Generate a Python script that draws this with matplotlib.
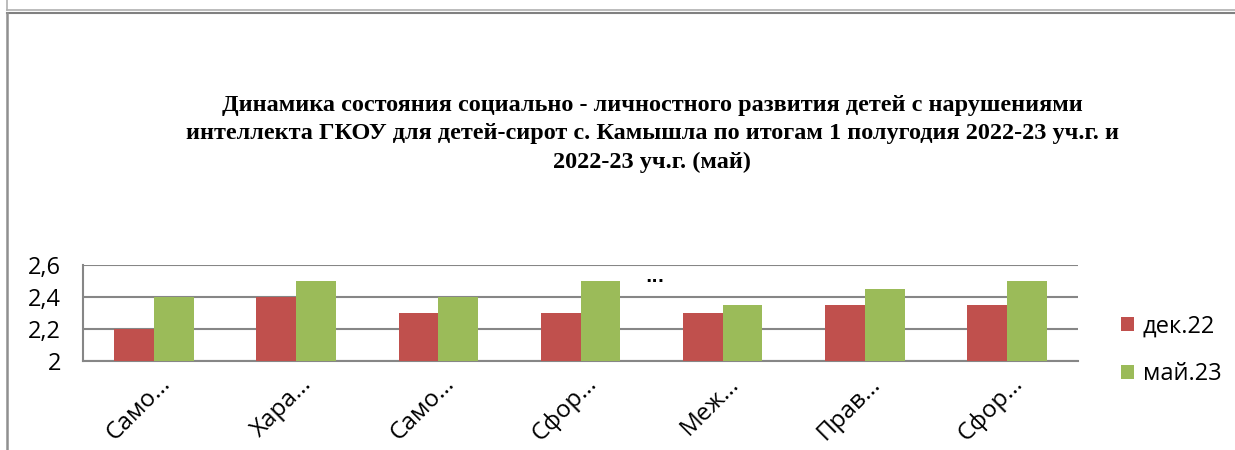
import matplotlib
matplotlib.use("Agg")
import matplotlib.pyplot as plt
import matplotlib.transforms as mtransforms
import numpy as np
from matplotlib.lines import Line2D

categories = ["Само…", "Хара…", "Само…", "Сфор…", "Меж…", "Прав…", "Сфор…"]
series_names = ["дек.22", "май.23"]
dec22 = [2.2, 2.4, 2.3, 2.3, 2.3, 2.35, 2.35]
may23 = [2.4, 2.5, 2.4, 2.5, 2.35, 2.45, 2.5]
yticks = [2.0, 2.2, 2.4, 2.6]
ytick_labels = ["2", "2,2", "2,4", "2,6"]
title = ("Динамика состояния социально - личностного развития детей с нарушениями\n"
         "интеллекта ГКОУ для детей-сирот с. Камышла по итогам 1 полугодия 2022-23 уч.г. и\n"
         "2022-23 уч.г. (май)")

W, H = 1235, 450
fig = plt.figure(figsize=(W / 100, H / 100), dpi=100)
fig.patch.set_facecolor("white")

def fx(px): return px / W
def fy(py): return 1 - py / H
fig.add_artist(Line2D([fx(7), fx(7)], [fy(0), fy(10)], color="#b0b0b0", lw=1.2))
fig.add_artist(Line2D([fx(7), 1], [fy(9.5), fy(9.5)], color="#b0b0b0", lw=1.2))
fig.add_artist(Line2D([fx(6.5), 1], [fy(12.5), fy(12.5)], color="#808080", lw=1.5))
fig.add_artist(Line2D([fx(6.5), fx(6.5)], [fy(12.5), 0], color="#909090", lw=1.8))

ax = fig.add_axes([fx(83), fy(361), fx(1078) - fx(83), fy(265) - fy(361)])
x = np.arange(len(categories))
bw = 0.28
ax.bar(x - bw / 2, [v - 2 for v in dec22], bw, bottom=2, color="#c0504d", zorder=3, label=series_names[0])
ax.bar(x + bw / 2, [v - 2 for v in may23], bw, bottom=2, color="#9bbb59", zorder=3, label=series_names[1])
ax.set_xlim(-0.5, len(categories) - 0.5)
ax.set_ylim(2.0, 2.6)
ax.set_yticks(yticks)
ax.set_yticklabels(ytick_labels, fontsize=17, family="Open Sans")
ax.yaxis.grid(True, color="#868686", lw=1.5, zorder=0)
ax.tick_params(axis="y", length=0, pad=16)
ax.tick_params(axis="x", length=0, pad=8)
ax.set_xticks(x)
ax.set_xticklabels(categories, rotation=45, ha="right", rotation_mode="anchor", fontsize=17.5, family="Open Sans")
offset = mtransforms.ScaledTranslation(0.04, 0, fig.dpi_scale_trans)
for lab in ax.get_xticklabels():
    lab.set_transform(lab.get_transform() + offset)
for s in ["top", "right"]:
    ax.spines[s].set_visible(False)
ax.spines["left"].set_color("#868686")
ax.spines["left"].set_linewidth(1.5)
ax.spines["bottom"].set_color("#868686")
ax.spines["bottom"].set_linewidth(1.5)
ax.text(3.52, 2.47, "...", fontsize=12, fontweight="bold", ha="center", va="bottom")

fig.text(fx(652), fy(95), title, ha="center", va="top", fontsize=17.5, fontweight="bold",
         family="Liberation Serif", linespacing=1.45)

leg = fig.legend(loc="upper left", bbox_to_anchor=(fx(1112), fy(305)), frameon=False,
                 prop={"family": "Open Sans", "size": 17}, handlelength=0.55, handleheight=0.55,
                 labelspacing=1.0, handletextpad=0.35, borderaxespad=0)

fig.savefig("out.png", dpi=100, facecolor="white")
